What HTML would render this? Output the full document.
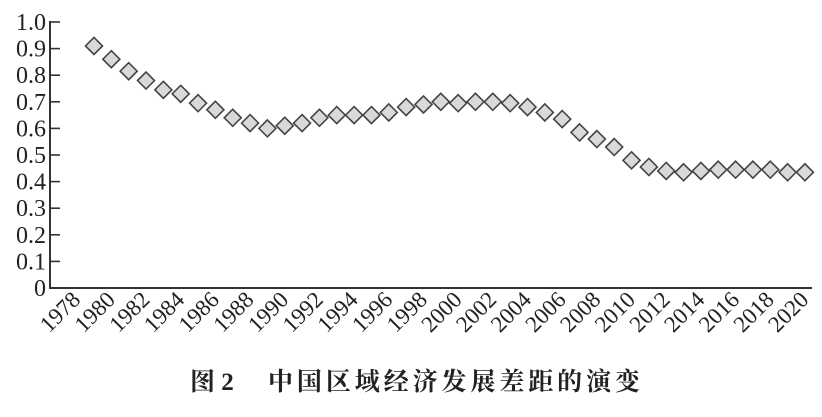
<!DOCTYPE html>
<html><head><meta charset="utf-8"><style>
body{margin:0;background:#fff;width:822px;height:412px;overflow:hidden}
svg text{font-family:"Liberation Serif","Noto Serif CJK SC",serif;fill:#222}
</style></head><body>
<svg width="822" height="412" viewBox="0 0 822 412" xmlns="http://www.w3.org/2000/svg">
<g id="ax" stroke="#333" stroke-width="2" fill="none">
<path d="M50,21 V288 H812"/>
</g>
<g id="ticks" stroke="#333" stroke-width="1.6"></g>
<g id="yl" font-size="24" text-anchor="end"></g>
<g id="xl" font-size="23" text-anchor="end"></g>
<g id="pts" fill="#d9d9d9" stroke="#444" stroke-width="1.6"></g>
<text x="190" y="390" font-size="25" font-weight="bold">图 2</text>
<text x="268" y="390" font-size="25" font-weight="bold" textLength="372">中国区域经济发展差距的演变</text>
</svg>
<script>
const ns="http://www.w3.org/2000/svg";
function el(t,a,p,txt){const e=document.createElementNS(ns,t);for(const k in a)e.setAttribute(k,a[k]);if(txt!=null)e.textContent=txt;document.getElementById(p).appendChild(e);}
const y0=288,dy=26.6;
for(let i=0;i<=10;i++){const y=y0-i*dy;
 if(i>0)el("line",{x1:50,x2:60,y1:y,y2:y},"ticks");
 el("text",{x:46,y:y+8},"yl",i==0?"0":(i==10?"1.0":"0."+i));}
const v=[.91,.86,.815,.78,.745,.73,.695,.67,.64,.62,.60,.61,.62,.64,.65,.65,.65,.66,.68,.69,.70,.695,.70,.70,.695,.68,.66,.635,.585,.56,.53,.48,.455,.44,.435,.44,.445,.445,.445,.445,.435,.435];
const sx=17.34,x0=94;
v.forEach((d,i)=>{const x=x0+i*sx,y=y0-d*10*dy;
 el("path",{d:`M${x},${y-8.5} L${x+8.5},${y} L${x},${y+8.5} L${x-8.5},${y} Z`},"pts");});
for(let yr=1978;yr<=2020;yr+=2){const x=x0+(yr-1979)*sx+5;
 el("text",{x:x,y:301,transform:`rotate(-45 ${x} 301)`},"xl",yr);}
</script>
</body></html>
